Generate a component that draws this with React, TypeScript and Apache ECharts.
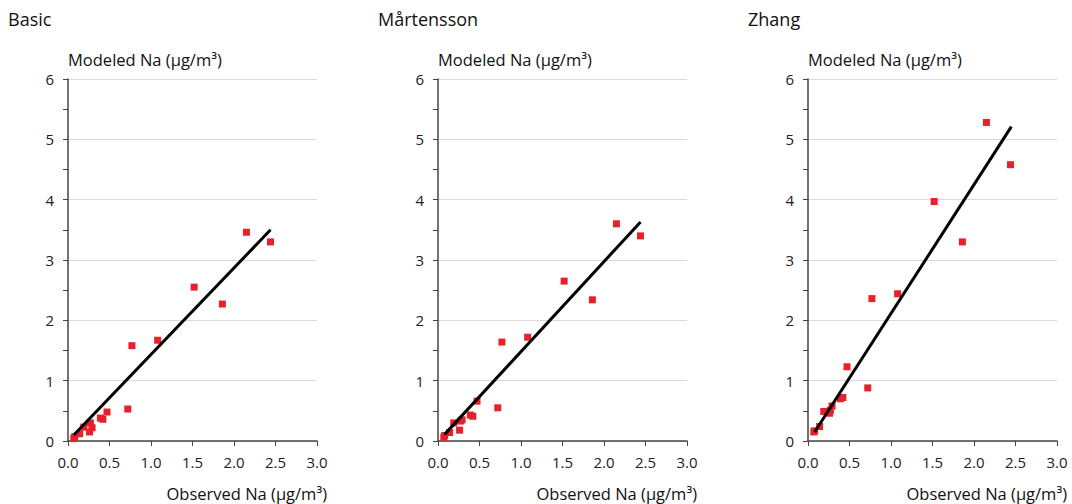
import React, { useEffect, useRef } from "react";
import * as echarts from "echarts";

const panelTitles = ["Basic", "Mårtensson", "Zhang"];
const observed = [0.07, 0.08, 0.14, 0.19, 0.26, 0.27, 0.29, 0.39, 0.42, 0.47, 0.72, 0.77, 1.08, 1.52, 1.86, 2.15, 2.44];
const modeledBasic = [0.04, 0.07, 0.12, 0.23, 0.15, 0.30, 0.22, 0.38, 0.36, 0.48, 0.53, 1.58, 1.67, 2.55, 2.27, 3.46, 3.30];
const modeledMartensson = [0.06, 0.09, 0.14, 0.30, 0.18, 0.33, 0.35, 0.43, 0.41, 0.66, 0.55, 1.64, 1.72, 2.65, 2.34, 3.60, 3.40];
const modeledZhang = [0.15, 0.17, 0.24, 0.49, 0.46, 0.51, 0.58, 0.70, 0.72, 1.23, 0.88, 2.36, 2.44, 3.97, 3.30, 5.28, 4.58];
const fitLines = [
  [[0.07, 0.1], [2.44, 3.5]],
  [[0.08, 0.11], [2.44, 3.63]],
  [[0.08, 0.15], [2.45, 5.21]],
];
const xTicks = ["0.0", "0.5", "1.0", "1.5", "2.0", "2.5", "3.0"];
const yTicks = ["0", "1", "2", "3", "4", "5", "6"];
const yAxisName = "Modeled Na (µg/m³)";
const xAxisName = "Observed Na (µg/m³)";

const FONT = "'Open Sans', 'Noto Sans', sans-serif";

export default function App() {
  const ref = useRef<HTMLDivElement>(null);
  useEffect(() => {
    if (!ref.current) return;
    const chart = echarts.init(ref.current, null, { renderer: "svg" });
    const modeled = [modeledBasic, modeledMartensson, modeledZhang];
    const lefts = [68, 438, 808];
    const gridW = 249;
    const top = 79;
    const gridH = 362;
    const axisColor = "#444";
    const grids: any[] = [];
    const xAxes: any[] = [];
    const yAxes: any[] = [];
    const series: any[] = [];
    const graphics: any[] = [];
    lefts.forEach((left, i) => {
      grids.push({ left, top, width: gridW, height: gridH });
      xAxes.push({
        type: "value",
        gridIndex: i,
        min: 0,
        max: 3,
        interval: 0.5,
        axisLine: { show: true, lineStyle: { color: axisColor, width: 1.5 } },
        axisTick: { show: true, length: 5, lineStyle: { color: axisColor } },
        axisLabel: {
          color: "#222",
          fontFamily: FONT,
          fontSize: 15,
          margin: 13,
          formatter: (v: number) => xTicks[Math.round(v * 2)] ?? "",
        },
        splitLine: { show: false },
      });
      yAxes.push({
        type: "value",
        gridIndex: i,
        min: 0,
        max: 6,
        interval: 1,
        axisLine: { show: true, lineStyle: { color: axisColor, width: 1.5 } },
        axisTick: { show: true, length: 5, lineStyle: { color: axisColor } },
        minorTick: { show: true, splitNumber: 2, length: 5, lineStyle: { color: axisColor } },
        axisLabel: {
          color: "#222",
          fontFamily: FONT,
          fontSize: 15,
          margin: 14,
          formatter: (v: number) => yTicks[Math.round(v)] ?? "",
        },
        splitLine: { show: true, lineStyle: { color: "#d9d9d9", width: 1 } },
      });
      series.push({
        type: "scatter",
        xAxisIndex: i,
        yAxisIndex: i,
        symbol: "rect",
        symbolSize: 7,
        itemStyle: { color: "#e8202a", opacity: 1 },
        data: observed.map((x, k) => [x, modeled[i][k]]),
        z: 3,
      });
      series.push({
        type: "line",
        xAxisIndex: i,
        yAxisIndex: i,
        symbol: "none",
        lineStyle: { color: "#000", width: 3 },
        data: fitLines[i],
        z: 4,
      });
      graphics.push({
        type: "text",
        left: left - 60,
        top: 10,
        style: { text: panelTitles[i], fontFamily: FONT, fontSize: 18, fill: "#111" },
      });
      graphics.push({
        type: "text",
        left: left,
        top: 51,
        style: { text: yAxisName, fontFamily: FONT, fontSize: 16.5, fill: "#111" },
      });
      graphics.push({
        type: "text",
        right: 1072 - (left + gridW + 10),
        top: 485,
        style: { text: xAxisName, fontFamily: FONT, fontSize: 16.5, fill: "#111" },
      });
    });
    chart.setOption({
      animation: false,
      backgroundColor: "#fff",
      grid: grids,
      xAxis: xAxes,
      yAxis: yAxes,
      series,
      graphic: graphics,
    });
    return () => chart.dispose();
  }, []);
  return (
    <div
      ref={ref}
      style={{ position: "fixed", left: 0, top: 0, width: 1072, height: 504 }}
    />
  );
}
